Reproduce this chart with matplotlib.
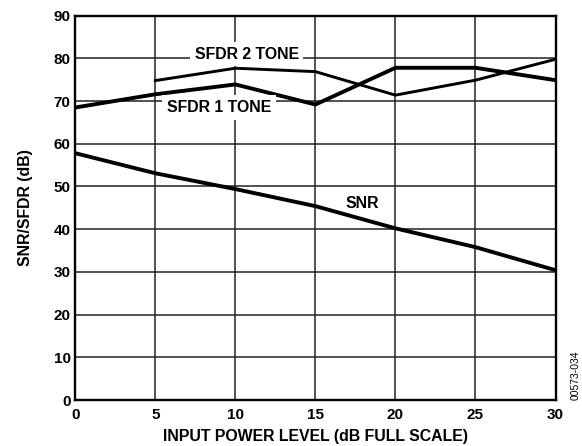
import matplotlib
matplotlib.use("Agg")
import matplotlib.pyplot as plt

x_all = [0, 5, 10, 15, 20, 25, 30]
x_sfdr2 = [5, 10, 15, 20, 25, 30]
sfdr2 = [74.8, 77.7, 76.9, 71.4, 74.9, 79.8]
sfdr1 = [68.5, 71.6, 73.9, 69.2, 77.8, 77.8, 74.9]
snr = [57.8, 53.1, 49.4, 45.4, 40.2, 35.8, 30.4]
x_ticks = [0, 5, 10, 15, 20, 25, 30]
y_ticks = [0, 10, 20, 30, 40, 50, 60, 70, 80, 90]

plt.rcParams['font.family'] = ['Liberation Sans', 'DejaVu Sans']

W, H = 582, 446
fig = plt.figure(figsize=(W/100, H/100), dpi=100)
L, R, T, B = 75.3, 555.5, 15.7, 400
ax = fig.add_axes([L/W, 1-B/H, (R-L)/W, (B-T)/H])

ax.plot(x_sfdr2, sfdr2, color='black', lw=2.1, zorder=3, solid_joinstyle='miter')
ax.plot(x_all, sfdr1, color='black', lw=2.8, zorder=3, solid_joinstyle='miter')
ax.plot(x_all, snr, color='black', lw=2.8, zorder=3, solid_joinstyle='miter')

ax.set_xlim(0, 30)
ax.set_ylim(0, 90)
ax.set_xticks(x_ticks)
ax.set_yticks(y_ticks)
ax.grid(True, color='#222222', lw=1.1)
ax.tick_params(axis='y', length=0, labelsize=11, pad=3.3)
ax.tick_params(axis='x', length=0, labelsize=11, pad=6)
for lab in ax.get_xticklabels() + ax.get_yticklabels():
    lab.set_fontweight('bold')
for s in ax.spines.values():
    s.set_linewidth(1.7)

ax.set_xlabel('INPUT POWER LEVEL (dB FULL SCALE)', fontsize=11.4, fontweight='bold', labelpad=5)
ax.set_ylabel('SNR/SFDR (dB)', fontsize=11.4, fontweight='bold', labelpad=15)

bb = dict(facecolor='white', edgecolor='none', boxstyle='square,pad=0.3')
ax.text(10.7, 81.0, 'SFDR 2 TONE', ha='center', va='center', fontsize=11.4, fontweight='bold', bbox=bb, zorder=4)
ax.text(9.0, 68.5, 'SFDR 1 TONE', ha='center', va='center', fontsize=11.4, fontweight='bold', bbox=bb, zorder=4)
ax.text(17.93, 46.1, 'SNR', ha='center', va='center', fontsize=11.4, fontweight='bold', zorder=4)

fig.text(576/W, 1-375/H, '00573-034', rotation=90, ha='center', va='center', fontsize=7.5)

fig.savefig('out.png', dpi=100)
